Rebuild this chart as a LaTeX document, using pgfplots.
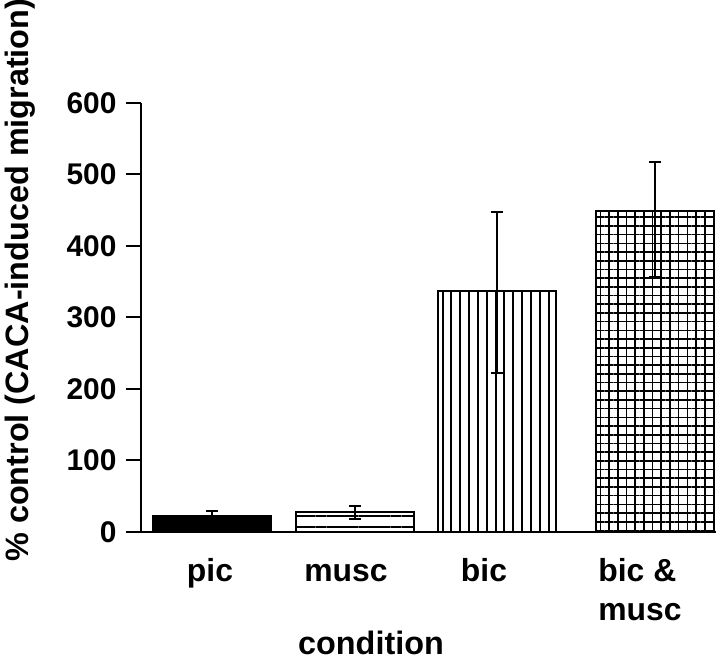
\documentclass[border=0pt]{standalone}
\usepackage{pgfplots}
\pgfplotsset{compat=1.18}
\usepackage{fontspec}
\setmainfont{Liberation Sans}
\usetikzlibrary{patterns.meta}
\pgfplotsset{
  mybar/.style={ybar, bar width=118, bar shift=0pt, draw=black, line width=2bp,
    error bars/y dir=both, error bars/y explicit,
    error bars/error bar style={line width=2bp, black},
    error bars/error mark options={rotate=90, mark size=6bp, line width=2bp, black}},
}
\begin{document}
\begin{tikzpicture}[x=1bp,y=1bp]
\useasboundingbox (0,0) rectangle (720,661);
\begin{axis}[
  at={(141bp,129bp)}, anchor=south west,
  scale only axis, width=575bp, height=429bp,
  xmin=141, xmax=716, ymin=0, ymax=600,
  axis x line=bottom, axis y line=left,
  axis line style={-, line width=2bp},
  ytick={0,100,...,600},
  xtick={210,346,484,640},
  xticklabels={\vphantom{b}pic,\vphantom{b}musc,\vphantom{b}bic,{bic \&\\musc}},
  x tick style={draw=none},
  y tick style={line width=2bp, black},
  tick align=outside, major tick length=15bp,
  /pgf/number format/assume math mode=true,
  yticklabel style={font=\bfseries\fontsize{30}{34}\selectfont, xshift=-6bp},
  xticklabel style={align=left, font=\bfseries\fontsize{32}{39}\selectfont, yshift=-8bp},
  xlabel={condition}, ylabel={\% control (CACA-induced migration)},
  label style={font=\bfseries\fontsize{32.5}{36}\selectfont},
  xlabel style={at={(rel axis cs:0.4,-0.2867)}, anchor=base},
  ylabel style={at={(rel axis cs:-0.1948,0.587)}, anchor=base},
  clip=false,
]
\addplot[mybar, fill=black] coordinates {(212,22) += (0,7) -= (0,7)};
\addplot[mybar, pattern={Lines[angle=0,distance=10.7bp,line width=2bp,yshift=-4.7bp]}] coordinates {(355,28) += (0,8) -= (0,10)};
\addplot[mybar, pattern={Lines[angle=90,distance=8.85bp,line width=2bp]}] coordinates {(496.5,337) += (0,111) -= (0,115)};
\addplot[mybar, pattern={Hatch[angle=0,distance=8.7bp,line width=1.6bp]}] coordinates {(655,449) += (0,68) -= (0,93)};
\end{axis}
\end{tikzpicture}
\end{document}
